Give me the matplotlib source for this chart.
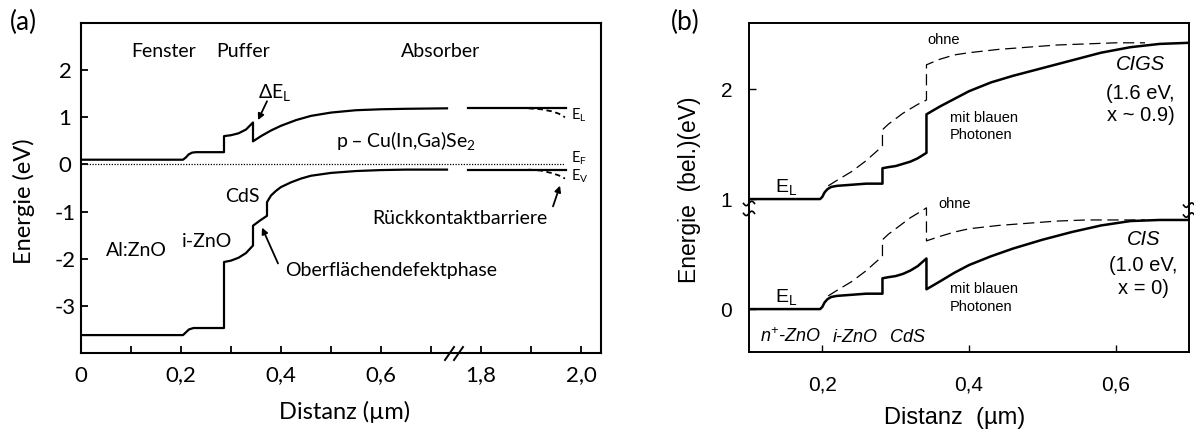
import numpy as np
import matplotlib
matplotlib.use("Agg")
import matplotlib.pyplot as plt
from matplotlib.transforms import blended_transform_factory

FONT_A = ["Lato", "DejaVu Sans"]
FONT_B = ["Liberation Sans", "DejaVu Sans"]

# ---------------- panel (a): band diagram ZnO/CdS/Cu(In,Ga)Se2 -----------------
# distance in µm, energy in eV (x axis is broken between 0.775 and 1.775 µm)
el_x = [0.0, 0.204, 0.210, 0.215, 0.222, 0.230, 0.286, 0.286, 0.300, 0.315, 0.330, 0.344,
        0.344, 0.360, 0.380, 0.400, 0.430, 0.460, 0.500, 0.550, 0.600, 0.650, 0.732]
el_y = [0.10, 0.10, 0.15, 0.21, 0.25, 0.26, 0.26, 0.60, 0.62, 0.66, 0.74, 0.89,
        0.49, 0.60, 0.72, 0.82, 0.94, 1.03, 1.10, 1.15, 1.17, 1.18, 1.19]
el_far_x = [1.762, 1.970]
el_far_y = [1.19, 1.19]
el_tail_x = [1.895, 1.920, 1.940, 1.955, 1.968]
el_tail_y = [1.19, 1.17, 1.13, 1.08, 1.00]

ev_x = [0.0, 0.204, 0.210, 0.216, 0.225, 0.286, 0.286, 0.300, 0.315, 0.330, 0.344,
        0.344, 0.358, 0.372, 0.372, 0.380, 0.390, 0.400, 0.420, 0.440, 0.460, 0.500,
        0.550, 0.600, 0.650, 0.732]
ev_y = [-3.62, -3.62, -3.56, -3.50, -3.47, -3.47, -2.07, -2.04, -1.98, -1.88, -1.72,
        -1.30, -1.19, -1.09, -0.80, -0.66, -0.56, -0.48, -0.38, -0.30, -0.24, -0.18,
        -0.14, -0.12, -0.11, -0.11]
ev_far_x = [1.762, 1.970]
ev_far_y = [-0.11, -0.11]
ev_tail_x = [1.895, 1.920, 1.940, 1.955, 1.968]
ev_tail_y = [-0.11, -0.13, -0.18, -0.23, -0.30]

ef_x = [0.0, 1.968]
ef_y = [0.0, 0.0]

a_xticks = [0.0, 0.2, 0.4, 0.6, 1.8, 2.0]
a_xticklabels = ["0", "0,2", "0,4", "0,6", "1,8", "2,0"]
a_xminor = [0.1, 0.3, 0.5, 0.7, 1.9]
a_yticks = [-3, -2, -1, 0, 1, 2]
a_yticklabels = ["-3", "-2", "-1", "0", "1", "2"]

# ---------------- panel (b): conduction band with/without blue photons ----------
cigs_blue_x = [0.100, 0.197, 0.200, 0.203, 0.207, 0.212, 0.220, 0.240, 0.260, 0.282,
               0.282, 0.290, 0.300, 0.310, 0.320, 0.330, 0.342,
               0.342, 0.360, 0.380, 0.400, 0.430, 0.460, 0.500, 0.540, 0.580, 0.620, 0.660, 0.700]
cigs_blue_y = [1.00, 1.00, 1.02, 1.06, 1.09, 1.11, 1.12, 1.13, 1.14, 1.14,
               1.28, 1.29, 1.30, 1.32, 1.34, 1.37, 1.42,
               1.77, 1.84, 1.91, 1.98, 2.06, 2.12, 2.19, 2.26, 2.33, 2.38, 2.41, 2.42]
cigs_dark_x = [0.208, 0.220, 0.230, 0.240, 0.250, 0.260, 0.270, 0.282,
               0.282, 0.290, 0.300, 0.310, 0.320, 0.330, 0.342,
               0.342, 0.360, 0.380, 0.400, 0.440, 0.480, 0.520, 0.560, 0.600, 0.640]
cigs_dark_y = [1.12, 1.17, 1.21, 1.25, 1.30, 1.35, 1.41, 1.48,
               1.63, 1.68, 1.73, 1.78, 1.82, 1.86, 1.90,
               2.22, 2.27, 2.31, 2.33, 2.36, 2.38, 2.40, 2.41, 2.42, 2.42]
cis_blue_x = [0.100, 0.197, 0.200, 0.203, 0.207, 0.212, 0.220, 0.240, 0.260, 0.282,
              0.282, 0.290, 0.300, 0.310, 0.320, 0.330, 0.342,
              0.342, 0.360, 0.380, 0.400, 0.430, 0.460, 0.500, 0.540, 0.580, 0.620, 0.660, 0.700]
cis_blue_y = [0.00, 0.00, 0.02, 0.06, 0.09, 0.11, 0.12, 0.13, 0.14, 0.14,
              0.28, 0.29, 0.30, 0.32, 0.35, 0.39, 0.46,
              0.18, 0.25, 0.33, 0.40, 0.48, 0.55, 0.63, 0.70, 0.76, 0.80, 0.81, 0.81]
cis_dark_x = [0.208, 0.220, 0.230, 0.240, 0.250, 0.260, 0.270, 0.282,
              0.282, 0.290, 0.300, 0.310, 0.320, 0.330, 0.342,
              0.342, 0.360, 0.380, 0.400, 0.440, 0.480, 0.520, 0.560, 0.600, 0.640]
cis_dark_y = [0.12, 0.17, 0.21, 0.25, 0.30, 0.35, 0.41, 0.48,
              0.63, 0.68, 0.73, 0.78, 0.83, 0.87, 0.92,
              0.62, 0.66, 0.70, 0.73, 0.76, 0.78, 0.80, 0.81, 0.81, 0.81]

b_xticks = [0.2, 0.4, 0.6]
b_xticklabels = ["0,2", "0,4", "0,6"]
b_yticks = [0, 1, 2]
b_yticklabels = ["0", "1", "2"]


def fwd(x):
    x = np.asarray(x, dtype=float)
    return np.where(x <= 0.775, x, np.where(x >= 1.775, x - 1.0, 0.775))


def inv(y):
    y = np.asarray(y, dtype=float)
    return np.where(y <= 0.775, y, y + 1.0)


W, H = 1194, 430
fig = plt.figure(figsize=(W / 100, H / 100), dpi=100)

# ============================ panel (a) ============================
axA = fig.add_axes([81 / W, 1 - 353 / H, 520 / W, 330 / H])
axA.set_xscale("function", functions=(fwd, inv))
axA.set_xlim(0.0, 2.04)
axA.set_ylim(-4.0, 3.0)

lw_a = 1.6
axA.plot(el_x, el_y, color="k", lw=lw_a)
axA.plot(el_far_x, el_far_y, color="k", lw=lw_a)
axA.plot(el_tail_x, el_tail_y, color="k", lw=1.3, ls=(0, (3, 2)))
axA.plot(ev_x, ev_y, color="k", lw=lw_a)
axA.plot(ev_far_x, ev_far_y, color="k", lw=lw_a)
axA.plot(ev_tail_x, ev_tail_y, color="k", lw=1.3, ls=(0, (3, 2)))
axA.plot(ef_x, ef_y, color="k", lw=0.9, ls=(0, (1, 1.2)))

for s in axA.spines.values():
    s.set_linewidth(1.5)
axA.set_xticks(a_xticks)
axA.set_xticklabels(a_xticklabels)
axA.set_xticks(a_xminor, minor=True)
axA.set_yticks(a_yticks)
axA.set_yticklabels(a_yticklabels)
axA.tick_params(axis="both", which="both", direction="in", length=5, width=1.3,
                top=False, right=False)
axA.tick_params(axis="x", which="major", pad=9)
axA.tick_params(axis="y", which="major", pad=11.5)
for lab in axA.get_xticklabels() + axA.get_yticklabels():
    lab.set_fontfamily(FONT_A)
    lab.set_fontsize(16)
for lab in axA.get_yticklabels():
    lab.set_horizontalalignment("center")

# axis break marks on the bottom spine
tA = axA.transAxes
for x0 in (445, 454):
    axA.plot([(x0 - 81) / 520, (x0 + 9 - 81) / 520], [-7 / 330, 6 / 330], transform=tA,
             color="k", lw=1.4, clip_on=False)

ta = dict(family=FONT_A, fontsize=14, ha="center", va="center")
axA.text(0.166, 2.40, "Fenster", **ta)
axA.text(0.324, 2.40, "Puffer", **ta)
axA.text(0.720, 2.40, "Absorber", **ta)
axA.text(0.388, 1.51, "ΔE$_{\\mathregular{L}}$", **ta)
axA.text(0.650, 0.49, "p – Cu(In,Ga)Se$_{\\mathregular{2}}$", **ta)
axA.text(0.322, -0.68, "CdS", **ta)
axA.text(0.110, -1.83, "Al:ZnO", **ta)
axA.text(0.252, -1.64, "i-ZnO", **ta)
axA.text(0.408, -2.26, "Oberflächendefektphase", **dict(ta, ha="left"))
axA.text(1.932, -1.15, "Rückkontaktbarriere", **dict(ta, ha="right"))
tb = dict(family=FONT_A, fontsize=10.5, ha="left", va="center")
axA.text(1.980, 1.04, "E$_{\\mathregular{L}}$", **tb)
axA.text(1.980, 0.14, "E$_{\\mathregular{F}}$", **tb)
axA.text(1.980, -0.24, "E$_{\\mathregular{V}}$", **tb)

arrow = dict(arrowstyle="-|>", lw=1.3, color="k", mutation_scale=9,
             shrinkA=0, shrinkB=0)
axA.annotate("", xy=(0.354, 0.94), xytext=(0.372, 1.34), arrowprops=arrow)
axA.annotate("", xy=(0.362, -1.34), xytext=(0.394, -2.10), arrowprops=arrow)
axA.annotate("", xy=(1.958, -0.45), xytext=(1.944, -0.89), arrowprops=arrow)

fig.text(23 / W, 1 - 22 / H, "(a)", family=FONT_A, fontsize=19, ha="center", va="center")
fig.text(24 / W, 1 - 201 / H, "Energie (eV)", family=FONT_A, fontsize=17,
         rotation=90, ha="center", va="center")
fig.text(345 / W, 1 - 412 / H, "Distanz (µm)", family=FONT_A, fontsize=17,
         ha="center", va="center")

# ============================ panel (b) ============================
axB = fig.add_axes([749 / W, 1 - 352 / H, 440 / W, 329 / H])
axB.set_xlim(0.1, 0.7)
axB.set_ylim(-0.39, 2.6)

axB.plot(cigs_blue_x, cigs_blue_y, color="k", lw=1.8)
axB.plot(cis_blue_x, cis_blue_y, color="k", lw=1.8)
axB.plot(cigs_dark_x, cigs_dark_y, color="k", lw=0.9, dashes=(9, 4.5))
axB.plot(cis_dark_x, cis_dark_y, color="k", lw=0.9, dashes=(9, 4.5))

for s in axB.spines.values():
    s.set_linewidth(1.4)
axB.set_xticks(b_xticks)
axB.set_xticklabels(b_xticklabels)
axB.set_yticks(b_yticks)
axB.set_yticklabels(b_yticklabels)
axB.tick_params(axis="both", which="both", direction="in", length=5, width=1.0,
                top=False, right=False)
axB.tick_params(axis="x", pad=17)
axB.tick_params(axis="y", pad=12)
for lab in axB.get_xticklabels() + axB.get_yticklabels():
    lab.set_fontfamily(FONT_B)
    lab.set_fontsize(15)

# axis break marks (two small waves) on both vertical spines
tB = blended_transform_factory(axB.transAxes, axB.transData)
wave_t = np.linspace(0.0, 2.0 * np.pi, 30)
wave_dx = (wave_t / (2.0 * np.pi) - 0.5) * (11 / 440)
wave_dy = -np.sin(wave_t) * (2.2 / 110)
for xa, ys in ((0.0, (0.96, 0.87)), (1.0, (0.945, 0.855))):
    for yv in ys:
        axB.plot(xa + wave_dx, yv + wave_dy, transform=tB, color="k", lw=1.2,
                 clip_on=False)

tc = dict(family=FONT_B, ha="center", va="center")
axB.text(0.365, 2.45, "ohne", fontsize=10.5, **tc)
axB.text(0.380, 0.955, "ohne", fontsize=10.5, **tc)
axB.text(0.374, 1.66, "mit blauen\nPhotonen", fontsize=10.5, family=FONT_B,
         ha="left", va="center", linespacing=1.35)
axB.text(0.374, 0.10, "mit blauen\nPhotonen", fontsize=10.5, family=FONT_B,
         ha="left", va="center", linespacing=1.35)
axB.text(0.634, 2.22, "CIGS", fontsize=14.5, style="italic", **tc)
axB.text(0.634, 1.86, "(1.6 eV,\nx ~ 0.9)", fontsize=14.5, linespacing=1.25, **tc)
axB.text(0.638, 0.63, "CIS", fontsize=14.5, style="italic", **tc)
axB.text(0.638, 0.29, "(1.0 eV,\nx = 0)", fontsize=14.5, linespacing=1.25, **tc)
axB.text(0.150, 1.10, "E$_{\\mathregular{L}}$", fontsize=14, **tc)
axB.text(0.150, 0.10, "E$_{\\mathregular{L}}$", fontsize=14, **tc)
axB.text(0.156, -0.255, "$\\mathregular{n^{+}}$-ZnO", fontsize=13, style="italic", **tc)
axB.text(0.245, -0.255, "i-ZnO", fontsize=13, style="italic", **tc)
axB.text(0.316, -0.255, "CdS", fontsize=13, style="italic", **tc)

fig.text(685 / W, 1 - 22 / H, "(b)", family=FONT_A, fontsize=19, ha="center", va="center")
fig.text(690 / W, 1 - 190 / H, "Energie  (bel.)(eV)", family=FONT_B, fontsize=16.5,
         rotation=90, ha="center", va="center")
fig.text(955 / W, 1 - 418 / H, "Distanz  (µm)", family=FONT_B, fontsize=17,
         ha="center", va="center")

fig.savefig("out.png", dpi=100)
